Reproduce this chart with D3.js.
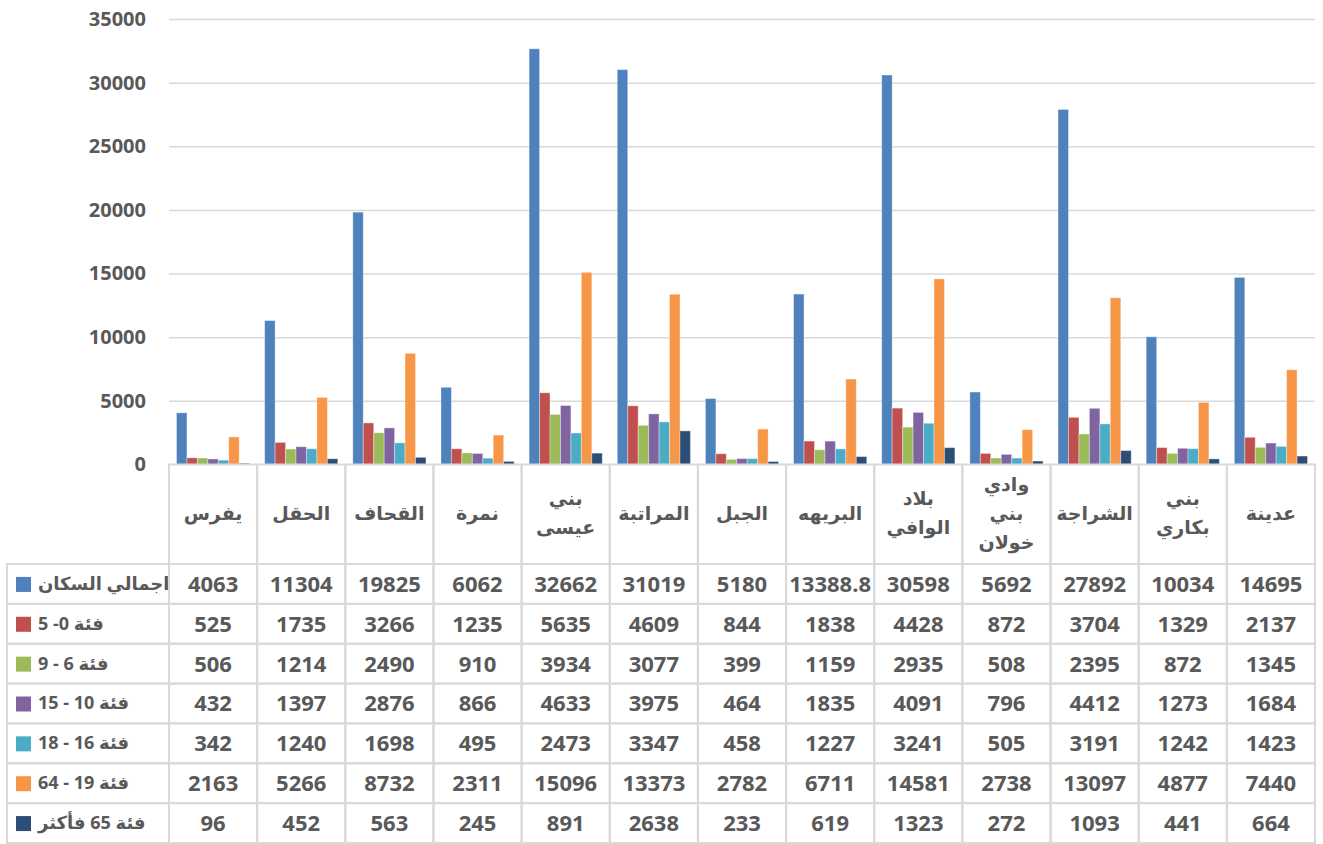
<!DOCTYPE html>
<meta charset="utf-8">
<style>
body { margin: 0; background: #fff; }
text { font-family: "Open Sans", "DejaVu Sans", sans-serif; font-weight: bold; fill: #595959; }
.grid line { stroke: #d9d9d9; stroke-width: 1.5; }
.grid path { stroke: none; }
.yaxis path, .yaxis line { stroke: none; }
.yaxis text { font-size: 20px; }
.cell { stroke: #d9d9d9; stroke-width: 2; fill: none; }
</style>
<script src="https://cdn.jsdelivr.net/npm/d3@7"></script>
<body>
<script>

var width = 1323, height = 844;

// categories (left to right, as drawn)
var categories = ["يفرس", "الحقل", "القحاف", "نمرة", "بني عيسى", "المراتبة", "الجبل", "البريهه", "بلاد الوافي", "وادي بني خولان", "الشراجة", "بني بكاري", "عدينة"];

var seriesNames = ["اجمالي السكان", "فئة 0- 5", "فئة  6 - 9", "فئة 10 - 15", "فئة 16 - 18", "فئة 19 - 64", "فئة  65 فأكثر"];
var seriesColors = ["#4f81bd", "#c0504d", "#9bbb59", "#8064a2", "#4bacc6", "#f79646", "#2c4d75"];

var total    = [4063, 11304, 19825, 6062, 32662, 31019, 5180, 13388.8, 30598, 5692, 27892, 10034, 14695];
var age0_5   = [525, 1735, 3266, 1235, 5635, 4609, 844, 1838, 4428, 872, 3704, 1329, 2137];
var age6_9   = [506, 1214, 2490, 910, 3934, 3077, 399, 1159, 2935, 508, 2395, 872, 1345];
var age10_15 = [432, 1397, 2876, 866, 4633, 3975, 464, 1835, 4091, 796, 4412, 1273, 1684];
var age16_18 = [342, 1240, 1698, 495, 2473, 3347, 458, 1227, 3241, 505, 3191, 1242, 1423];
var age19_64 = [2163, 5266, 8732, 2311, 15096, 13373, 2782, 6711, 14581, 2738, 13097, 4877, 7440];
var age65    = [96, 452, 563, 245, 891, 2638, 233, 619, 1323, 272, 1093, 441, 664];

var yTicks = [0, 5000, 10000, 15000, 20000, 25000, 30000, 35000];

var series = [total, age0_5, age6_9, age10_15, age16_18, age19_64, age65].map(function(vals, i) {
  return { name: seriesNames[i], color: seriesColors[i], values: vals };
});

var svg = d3.select("body").append("svg")
    .attr("width", width)
    .attr("height", height);

var plotLeft = 169, plotRight = 1315;
var x0 = d3.scaleBand().domain(categories).range([plotLeft, plotRight]);
var groupPad = 7.5;
var x1 = d3.scaleBand().domain(seriesNames).range([groupPad, x0.bandwidth() - groupPad]);
var y = d3.scaleLinear().domain([0, 35000]).range([464.5, 19]);

// gridlines
svg.append("g")
    .attr("class", "grid")
    .attr("transform", "translate(" + plotLeft + ",0)")
    .call(d3.axisLeft(y).tickValues(yTicks.slice(1)).tickSize(-(plotRight - plotLeft)).tickFormat(""));

// y axis labels
svg.append("g")
    .attr("class", "yaxis")
    .attr("transform", "translate(" + plotLeft + ",0)")
    .call(d3.axisLeft(y).tickValues(yTicks).tickSize(0).tickPadding(23).tickFormat(d3.format("d")))
    .selectAll("text")
    .attr("fill", "#595959");

// bars
var groups = svg.append("g").selectAll("g")
    .data(categories)
    .enter().append("g")
    .attr("transform", function(d) { return "translate(" + x0(d) + ",0)"; });

groups.selectAll("rect")
    .data(function(d, ci) { return series.map(function(s) { return { s: s, v: s.values[ci] }; }); })
    .enter().append("rect")
    .attr("x", function(d) { return x1(d.s.name); })
    .attr("width", x1.bandwidth())
    .attr("y", function(d) { return y(d.v); })
    .attr("height", function(d) { return y(0) - y(d.v); })
    .attr("fill", function(d) { return d.s.color; })
    .attr("stroke", "rgba(255,255,255,0.35)")
    .attr("stroke-width", 1);

// data table
var headTop = y(0), tableTop = 564, tableBottom = 843, legendLeft = 7;
var rowY = d3.scaleBand().domain(seriesNames).range([tableTop, tableBottom]);

var table = svg.append("g");

// header cells
table.selectAll(".hcell")
    .data(categories)
    .enter().append("rect")
    .attr("class", "cell")
    .attr("x", function(d) { return x0(d); })
    .attr("y", headTop)
    .attr("width", x0.bandwidth())
    .attr("height", tableTop - headTop);

table.selectAll(".hlabel")
    .data(categories)
    .enter().append("text")
    .attr("text-anchor", "middle")
    .style("font-size", "19px")
    .attr("x", function(d) { return x0(d) + x0.bandwidth() / 2; })
    .each(function(d) {
      var words = d.split(" ");
      var lh = 29;
      var start = (headTop + tableTop) / 2 - (words.length - 1) * lh / 2;
      var t = d3.select(this);
      words.forEach(function(w, i) {
        t.append("tspan")
          .attr("x", x0(d) + x0.bandwidth() / 2)
          .attr("y", start + i * lh)
          .attr("dy", "0.3em")
          .text(w);
      });
    });

// body rows
var rows = table.selectAll(".row")
    .data(series)
    .enter().append("g");

rows.append("rect")
    .attr("class", "cell")
    .attr("x", legendLeft)
    .attr("y", function(d) { return rowY(d.name); })
    .attr("width", plotLeft - legendLeft)
    .attr("height", rowY.bandwidth());

rows.append("rect")
    .attr("x", 16)
    .attr("y", function(d) { return rowY(d.name) + rowY.bandwidth() / 2 - 7; })
    .attr("width", 15)
    .attr("height", 15)
    .attr("fill", function(d) { return d.color; });

rows.append("text")
    .attr("direction", "rtl")
    .attr("text-anchor", "end")
    .style("font-size", "18px")
    .attr("x", 38)
    .attr("y", function(d) { return rowY(d.name) + rowY.bandwidth() / 2; })
    .attr("dy", "0.33em")
    .text(function(d) { return d.name; });

rows.each(function(s) {
  var g = d3.select(this);
  var cells = g.selectAll(".vcell")
      .data(s.values)
      .enter();
  cells.append("rect")
      .attr("class", "cell")
      .attr("x", function(d, i) { return x0(categories[i]); })
      .attr("y", rowY(s.name))
      .attr("width", x0.bandwidth())
      .attr("height", rowY.bandwidth());
  cells.append("text")
      .attr("text-anchor", "middle")
      .style("font-size", "22px")
      .attr("x", function(d, i) { return x0(categories[i]) + x0.bandwidth() / 2; })
      .attr("y", rowY(s.name) + rowY.bandwidth() / 2)
      .attr("dy", "0.36em")
      .text(function(d) { return d; });
});

</script>
</body>
